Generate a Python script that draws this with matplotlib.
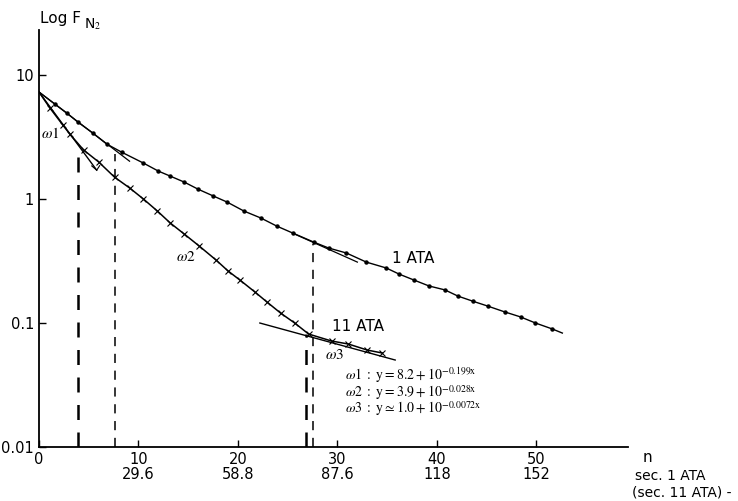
import numpy as np
import matplotlib
matplotlib.use("Agg")
import matplotlib.pyplot as plt

plt.rcParams['font.family'] = ['DejaVu Sans']
plt.rcParams['mathtext.fontset'] = 'stix'

# 1 ATA washout (dots)
atm1_n = [0, 1.6, 2.8, 3.9, 5.4, 6.8, 8.3, 10.5, 12.0, 13.2, 14.6, 16.0, 17.5,
          18.9, 20.6, 22.3, 23.9, 25.5, 27.6, 29.1, 30.9, 32.9, 34.9, 36.2,
          37.7, 39.2, 40.8, 42.1, 43.6, 45.1, 46.8, 48.4, 49.9, 51.6]
atm1_f = [7.30, 5.84, 4.94, 4.18, 3.41, 2.78, 2.39, 1.95, 1.68, 1.53, 1.37,
          1.20, 1.06, 0.946, 0.80, 0.703, 0.605, 0.532, 0.450, 0.403, 0.367,
          0.310, 0.278, 0.248, 0.222, 0.199, 0.185, 0.165, 0.150, 0.137,
          0.123, 0.112, 0.100, 0.0895]
atm1_end = (52.6, 0.083)

# 11 ATA washout (crosses)
atm11_n = [0, 1.1, 2.4, 3.1, 4.5, 6.0, 7.6, 9.1, 10.5, 11.9, 13.2, 14.6, 16.1,
           17.8, 19.0, 20.2, 21.7, 22.9, 24.3, 25.7, 27.1, 29.4, 31.1, 33.0,
           34.5]
atm11_f = [7.30, 5.42, 3.95, 3.34, 2.48, 1.99, 1.50, 1.23, 1.00, 0.80, 0.640,
           0.522, 0.418, 0.322, 0.263, 0.222, 0.178, 0.148, 0.120, 0.100,
           0.0815, 0.0716, 0.0677, 0.0605, 0.0573]

# fitted component lines
w1_n, w1_f = [0, 5.8], [7.3, 1.71]
fast1_n, fast1_f = [0, 9.1], [7.3, 2.02]
slow1_n, slow1_f = [25.5, 32.0], [0.53, 0.31]
w3_n, w3_f = [22.2, 35.8], [0.100, 0.0503]

# vertical dashed markers
dash_n = [3.9, 7.6, 26.8, 27.5]
dash_top = [2.7, 2.3, 0.082, 0.43]
dash_lw = [1.8, 1.1, 1.8, 1.1]

x_ticks = [10, 20, 30, 40, 50]
sec_1ata = ['29.6', '58.8', '87.6', '118', '152']
y_ticks = [0.01, 0.1, 1, 10]
y_labels = ['0.01', '0.1', '1', '10']

fig = plt.figure(figsize=(7.38, 5.01), dpi=100)
ax = fig.add_axes([39 / 738, 1 - 447 / 501, (628 - 39) / 738, (447 - 30) / 501])
ax.set_yscale('log')
ax.set_xlim(0, 59.2)
ax.set_ylim(0.01, 23.1)

ax.plot(atm1_n + [atm1_end[0]], atm1_f + [atm1_end[1]], color='black', lw=1)
ax.plot(atm1_n[1:], atm1_f[1:], ls='none', marker='o', ms=2.2, color='black')
ax.plot(atm11_n, atm11_f, color='black', lw=1.1)
ax.plot(atm11_n[1:], atm11_f[1:], ls='none', marker='x', ms=4, mew=0.8,
        color='black')

ax.plot(w1_n, w1_f, color='black', lw=1)
ax.plot([5.3, 5.8, 6.1], [1.85, 1.71, 1.86], color='black', lw=0.8)
ax.plot(fast1_n, fast1_f, color='black', lw=0.9)
ax.plot(slow1_n, slow1_f, color='black', lw=0.9)
ax.plot(w3_n, w3_f, color='black', lw=1)

for n, top, lw in zip(dash_n, dash_top, dash_lw):
    ax.plot([n, n], [0.01, top], color='black', lw=lw, ls=(0, (6, 5)))

ax.spines['top'].set_visible(False)
ax.spines['right'].set_visible(False)
ax.spines['left'].set_linewidth(1.3)
ax.spines['bottom'].set_linewidth(1.3)

ax.set_xticks([0] + x_ticks)
ax.set_xticklabels(['0'] + [f'{t}\n{s}' for t, s in zip(x_ticks, sec_1ata)],
                   fontsize=10.5, linespacing=1.0, va='top')
ax.set_yticks(y_ticks)
ax.set_yticklabels(y_labels, fontsize=10.5)
ax.minorticks_off()
ax.tick_params(direction='in', length=5, width=1)

ax.text(1.1, 3.4, r'$\omega 1$', fontsize=11, ha='center', va='center')
ax.text(14.8, 0.347, r'$\omega 2$', fontsize=11, ha='center', va='center')
ax.text(29.7, 0.056, r'$\omega 3$', fontsize=11, ha='center', va='center')
ax.text(37.6, 0.334, '1 ATA', fontsize=11, ha='center', va='center')
ax.text(32.1, 0.093, '11 ATA', fontsize=11, ha='center', va='center')

eqs = (r'$\omega 1\ :\ \mathrm{y}=8.2+10^{-0.199\mathrm{x}}$' '\n'
       r'$\omega 2\ :\ \mathrm{y}=3.9+10^{-0.028\mathrm{x}}$' '\n'
       r'$\omega 3\ :\ \mathrm{y}\simeq 1.0+10^{-0.0072\mathrm{x}}$')
ax.text(30.75, 0.0278, eqs, fontsize=10, ha='left', va='center',
        linespacing=0.85)

fig.text(40 / 738, 1 - 18 / 501, 'Log F', fontsize=11, ha='left', va='center')
fig.text(84 / 738, 1 - 24 / 501, r'N$_2$', fontsize=10, ha='left',
         va='center')
fig.text(643 / 738, 1 - 458 / 501, 'n', fontsize=11, ha='left', va='center')
fig.text(635 / 738, 1 - 476 / 501, 'sec. 1 ATA', fontsize=10, ha='left',
         va='center')
fig.text(632 / 738, 1 - 492 / 501, '(sec. 11 ATA) -', fontsize=10, ha='left',
         va='center')

fig.savefig('out.png', dpi=100)
